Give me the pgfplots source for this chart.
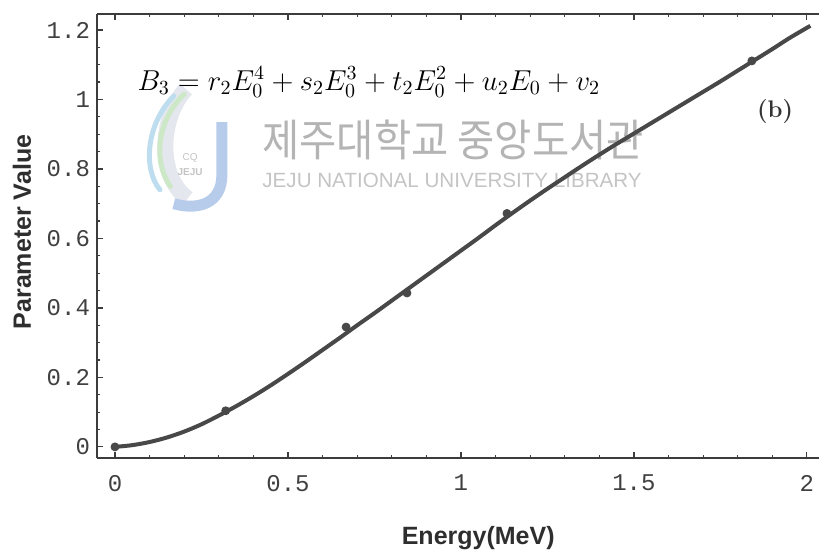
\documentclass[border=0pt]{standalone}
\usepackage{fontspec}
\setsansfont{Liberation Sans}
\setmonofont{Liberation Mono}
\newfontfamily\kfont{Noto Sans CJK KR}
\usepackage{pgfplots}
\pgfplotsset{compat=1.18}
\usetikzlibrary{calc}

\definecolor{curvegray}{RGB}{72,72,72}
\definecolor{framegray}{RGB}{60,60,60}
\definecolor{wmgray}{RGB}{180,180,180}
\definecolor{wmtext}{RGB}{196,196,196}
\definecolor{wmblue}{RGB}{182,204,234}
\definecolor{wmcyan}{RGB}{190,222,240}
\definecolor{wmgreen}{RGB}{205,232,198}
\definecolor{wmlight}{RGB}{228,231,237}

% fitted curve B3(E0)
\pgfplotstableread{
x y
0.00 0.000
0.05 0.005
0.10 0.014
0.15 0.027
0.20 0.044
0.25 0.065
0.30 0.090
0.35 0.117
0.40 0.146
0.45 0.177
0.50 0.210
0.55 0.244
0.60 0.279
0.65 0.314
0.70 0.350
0.75 0.385
0.80 0.421
0.85 0.457
0.90 0.493
0.95 0.529
1.00 0.565
1.05 0.601
1.10 0.638
1.15 0.674
1.20 0.709
1.25 0.743
1.30 0.776
1.35 0.809
1.40 0.841
1.45 0.872
1.50 0.902
1.55 0.932
1.60 0.962
1.65 0.992
1.70 1.022
1.75 1.052
1.80 1.083
1.85 1.114
1.90 1.145
1.95 1.177
2.01 1.212
}\fitcurve

% computed parameter values
\pgfplotstableread{
x y
0.00 0.000
0.32 0.104
0.668 0.345
0.844 0.443
1.133 0.672
1.841 1.111
}\points

\begin{document}
\begin{tikzpicture}
\begin{axis}[
  name=ax,
  scale only axis,
  width=361pt, height=222pt,
  xmin=-0.052, xmax=2.035,
  ymin=-0.032, ymax=1.246,
  axis x line*=box, axis y line*=left,
  axis line style={draw=framegray, line width=0.8pt},
  xtick={0,0.5,1,1.5,2},
  ytick={0,0.2,0.4,0.6,0.8,1,1.2},
  minor x tick num=4, minor y tick num=3,
  tick align=inside,
  major tick length=3pt, minor tick length=1.5pt,
  tick style={framegray, line width=0.6pt},
  /pgf/number format/assume math mode=true,
  ticklabel style={font=\ttfamily\fontsize{12}{12}\selectfont, text=black!75},
  xticklabel style={yshift=-5pt},
  xlabel={Energy(MeV)},
  ylabel={Parameter Value},
  label style={font=\sffamily\bfseries\fontsize{12.5}{13}\selectfont, text=black!82},
  xlabel style={at={(rel axis cs:0.528,0)}, anchor=center, yshift=-40pt},
  ylabel style={at={($(rel axis cs:0,0.509)+(-37.5pt,0pt)$)}, anchor=center},
  clip=false,
]
% library watermark
\draw[wmlight, line width=8pt]
  (axis cs:0.205,1.030) .. controls (axis cs:0.13,0.95) and (axis cs:0.12,0.78) .. (axis cs:0.21,0.715);
\draw[wmcyan, line width=2.5pt, line cap=round]
  (axis cs:0.170,1.010) .. controls (axis cs:0.09,0.93) and (axis cs:0.08,0.80) .. (axis cs:0.13,0.74);
\draw[wmgreen, line width=2.5pt, line cap=round]
  (axis cs:0.200,1.015) .. controls (axis cs:0.12,0.94) and (axis cs:0.11,0.82) .. (axis cs:0.16,0.75);
\draw[wmblue, line width=5.5pt]
  (axis cs:0.309,0.935) -- (axis cs:0.309,0.783) .. controls (axis cs:0.309,0.70) and (axis cs:0.24,0.68) .. (axis cs:0.17,0.70);
\node[text=wmtext, font=\sffamily\fontsize{5}{5}\selectfont, inner sep=0] at (axis cs:0.217,0.832) {CQ};
\node[text=wmtext, font=\sffamily\bfseries\fontsize{5}{5}\selectfont, inner sep=0] at (axis cs:0.217,0.791) {JEJU};
\node[anchor=west, inner sep=0, text=wmgray, xscale=0.92,
      font=\kfont\fontsize{22}{22}\selectfont] at (axis cs:0.425,0.883) {제주대학교 중앙도서관};
\node[anchor=west, inner sep=0, text=wmtext,
      font=\sffamily\fontsize{10.3}{11}\selectfont] at (axis cs:0.425,0.768) {JEJU NATIONAL UNIVERSITY LIBRARY};

\addplot[curvegray, line width=2pt, smooth] table {\fitcurve};
\addplot[only marks, mark=*, mark size=2pt, curvegray] table {\points};

\node[anchor=base west, inner sep=0, font=\fontsize{14.8}{16}\selectfont]
  at (axis cs:0.064,1.027) {$B_3 = r_2E_0^4 + s_2E_0^3 + t_2E_0^2 + u_2E_0 + v_2$};
\node[font=\bfseries\fontsize{12}{12}\selectfont, text=black!80] at (axis cs:1.908,0.964) {(b)};
\end{axis}
\pgfresetboundingbox
\path (ax.south west) ++(-48.5pt,-50pt) rectangle ++(409.5pt,279pt);
\end{tikzpicture}
\end{document}
